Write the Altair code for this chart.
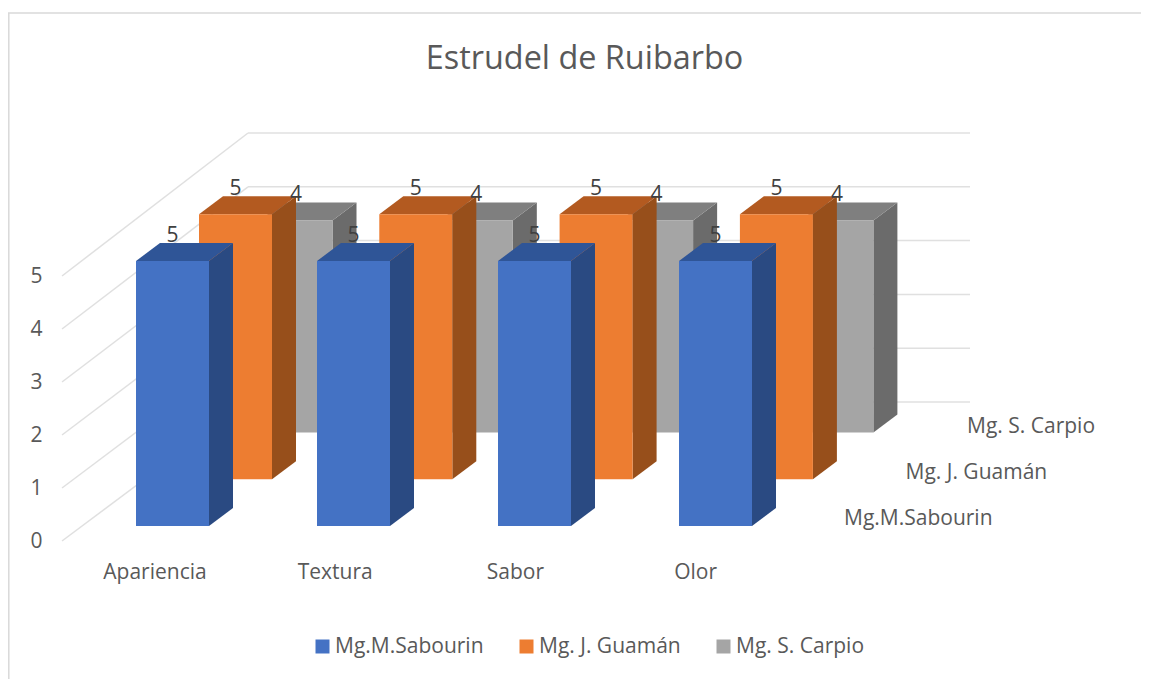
import altair as alt
import pandas as pd

# ---- values
categories = ["Apariencia", "Textura", "Sabor", "Olor"]
series = ["Mg.M.Sabourin", "Mg. J. Guamán", "Mg. S. Carpio"]
values_sabourin = [5, 5, 5, 5]
values_guaman = [5, 5, 5, 5]
values_carpio = [4, 4, 4, 4]
all_values = [values_sabourin, values_guaman, values_carpio]
ticks = [0, 1, 2, 3, 4, 5]

front_colors = ["#4472C4", "#ED7D31", "#A5A5A5"]
side_colors = ["#2A4A82", "#974F1B", "#6B6B6B"]
top_colors = ["#2F5597", "#B35A20", "#7F7F7F"]

FONT = "Open Sans"
TEXT = "#595959"
GRID = "#E0E0E0"
FS = 21

# ---- oblique projection: one category = 181 px, one value unit = 53 px
PX_CAT, PX_VAL = 181.0, 53.0
W, H = 1079, 440
ROW_START = [74 / PX_CAT, 137 / PX_CAT, 197.5 / PX_CAT]   # left edge of each row's first bar
ROW_STEP = [1.0, 180.3 / PX_CAT, 180.3 / PX_CAT]          # perspective narrows the far rows
SER_Y = 46.8 / PX_VAL
FLOOR_Y = 15 / PX_VAL
BAR_W = 73 / PX_CAT
SIDE_X, SIDE_Y = 24 / PX_CAT, 18 / PX_VAL
BACK_X, BACK_Y, BACK_Y_STEP = 186 / PX_CAT, 139 / PX_VAL, 53.8 / PX_VAL
BACK_END = 908 / PX_CAT
LABEL_UP = 25 / PX_VAL
CAT_LABEL_START, CAT_LABEL_STEP = 92.5 / PX_CAT, 180.2 / PX_CAT

sx = alt.Scale(domain=[0, W / PX_CAT], range=[0, W], nice=False, zero=False)
sy = alt.Scale(domain=[0, H / PX_VAL], range=[H, 0], nice=False, zero=False)

cat_positions = [CAT_LABEL_START + i * CAT_LABEL_STEP for i in range(len(categories))]
label_expr = (
    "{" + ",".join(f"'{p:.4f}':'{c}'" for p, c in zip(cat_positions, categories)) + "}"
    "[format(datum.value,'.4f')]"
)
x_axis = alt.Axis(
    values=cat_positions, labelExpr=label_expr, title=None, domain=False, ticks=False,
    grid=False, labelFont=FONT, labelFontSize=FS, labelColor=TEXT, labelPadding=20,
    labelAngle=0, labelFlush=False, labelOverlap=False,
)
y_axis = alt.Axis(
    values=ticks, format="d", title=None, domain=False, ticks=False, grid=False,
    labelFont=FONT, labelFontSize=FS, labelColor=TEXT, labelPadding=20,
)
X = alt.X("x:Q", scale=sx, axis=x_axis)
Y = alt.Y("y:Q", scale=sy, axis=y_axis)
X2, Y2 = alt.X2("x2:Q"), alt.Y2("y2:Q")

# ---- grid
grid_rows = []
for t in ticks:
    by = BACK_Y + t * BACK_Y_STEP
    grid_rows.append({"x": 0, "x2": BACK_X, "y": t, "y2": by})
    grid_rows.append({"x": BACK_X, "x2": BACK_END, "y": by, "y2": by})
grid = alt.Chart(pd.DataFrame(grid_rows)).mark_rule(color=GRID, strokeWidth=1.5).encode(X, Y, x2=X2, y2=Y2)

# ---- bars, back row first
layers = [grid]
label_rows = []
for s in reversed(range(len(series))):
    fr, side, top = [], [], []
    for c, v in enumerate(all_values[s]):
        left = ROW_START[s] + c * ROW_STEP[s]
        right = left + BAR_W
        y0 = FLOOR_Y + s * SER_Y
        y1 = y0 + v
        fr.append({"x": left, "x2": right, "y": y0, "y2": y1, "serie": series[s]})
        side.append({"x": right, "y": y0, "y2": y1, "cat": categories[c]})
        side.append({"x": right + SIDE_X, "y": y0 + SIDE_Y, "y2": y1 + SIDE_Y, "cat": categories[c]})
        top.append({"y": y1, "x": left, "x2": right, "cat": categories[c]})
        top.append({"y": y1 + SIDE_Y, "x": left + SIDE_X, "x2": right + SIDE_X, "cat": categories[c]})
        label_rows.append({"x": (left + right) / 2, "y": y1 + LABEL_UP, "v": v})
    layers.append(
        alt.Chart(pd.DataFrame(side)).mark_area(color=side_colors[s], orient="vertical")
        .encode(X, Y, y2=Y2, detail="cat:N")
    )
    layers.append(
        alt.Chart(pd.DataFrame(top)).mark_area(color=top_colors[s], orient="horizontal")
        .encode(X, Y, x2=X2, detail="cat:N")
    )
    layers.append(
        alt.Chart(pd.DataFrame(fr)).mark_rect().encode(
            X, Y, x2=X2, y2=Y2,
            color=alt.Color(
                "serie:N",
                scale=alt.Scale(domain=series, range=front_colors),
                legend=alt.Legend(
                    title=None, orient="none", legendX=250, legendY=535, direction="horizontal",
                    symbolType="square", symbolSize=196, symbolStrokeWidth=0, labelFont=FONT,
                    labelFontSize=FS, labelColor=TEXT, labelOffset=2, columnPadding=32,
                    columns=3, gridAlign="none", labelLimit=300,
                ),
            ),
        )
    )

# ---- data labels
layers.append(
    alt.Chart(pd.DataFrame(label_rows)).mark_text(
        font=FONT, fontSize=FS, color="#404040", baseline="middle", align="center"
    ).encode(X, Y, text=alt.Text("v:Q"))
)

# ---- depth axis labels
depth_rows = [
    {"x": (782 + i * 61.5) / PX_CAT, "y": (22 + i * 46) / PX_VAL, "t": series[i]}
    for i in range(len(series))
]
layers.append(
    alt.Chart(pd.DataFrame(depth_rows)).mark_text(
        font=FONT, fontSize=FS, color=TEXT, baseline="middle", align="left"
    ).encode(X, Y, text="t:N")
)

# ---- chart frame
layers.append(
    alt.Chart().mark_rule(color="#D9D9D9", strokeWidth=1.5).encode(
        x=alt.value(-54), x2=alt.value(W), y=alt.value(-88)
    )
)
layers.append(
    alt.Chart().mark_rule(color="#D9D9D9", strokeWidth=1.5).encode(
        x=alt.value(-53.2), y=alt.value(-88), y2=alt.value(578)
    )
)

chart = (
    alt.layer(*layers)
    .properties(
        width=W,
        height=H,
        padding={"left": 54, "top": 93, "right": 0, "bottom": 138},
        autosize=alt.AutoSizeParams(type="none"),
        background="white",
        title=alt.TitleParams(
            "Estrudel de Ruibarbo", font=FONT, fontSize=32.4, fontWeight="normal", color=TEXT,
            anchor="middle", dx=-17, offset=-63,
        ),
    )
    .configure_view(stroke=None)
)
chart.save("out.html", embed_options={"renderer": "svg", "actions": False})
